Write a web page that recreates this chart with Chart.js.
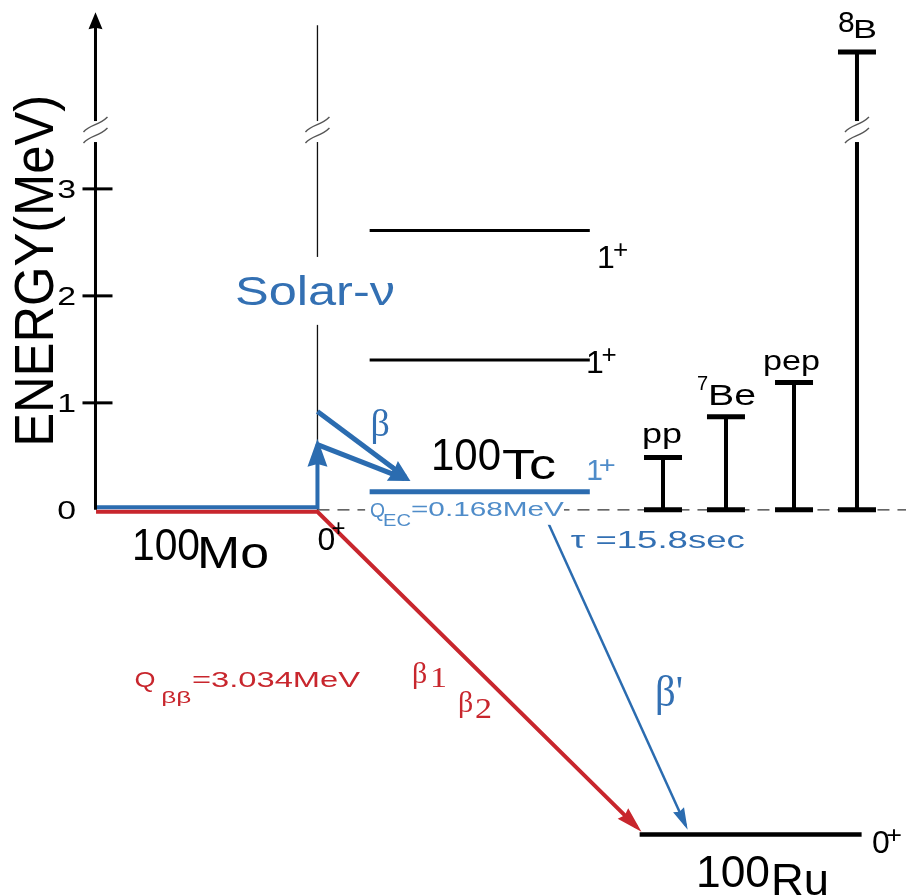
<!DOCTYPE html>
<html>
<head>
<meta charset="utf-8">
<script src="https://cdn.jsdelivr.net/npm/chart.js@4.4.1/dist/chart.umd.min.js"></script>
<style>
  html, body { margin: 0; padding: 0; background: #fff; }
  #wrap { width: 906px; height: 895px; }
</style>
</head>
<body>
<div id="wrap"><canvas id="c" width="906" height="895"></canvas></div>
<script>
// ---- values: energies in MeV relative to the 100Mo ground state ----
const yTicks = [0, 1, 2, 3];
const qBetaBeta = 3.034;             // 100Mo -> 100Ru double beta decay
const qEC = 0.168;                   // 100Tc 1+ ground state above 100Mo
const tcExcited = [1.40, 2.61];      // higher 1+ states of 100Tc
const solarSources = ['pp', '7Be', 'pep', '8B'];
const solarMax = [0.49, 0.87, 1.19, 4.28]; // 8B end point sits above the axis break
const axisBreak = 3.55;

// ---- diagram layout (x in diagram units 0..100) ----
const COL = {
  axis: 10.54, moStart: 10.6, moEnd: 35.04,
  levelStart: 40.8, levelEnd: 65.1,
  ruStart: 70.6, ruEnd: 95.1, dashEnd: 100,
  bars: [73.18, 80.13, 87.64, 94.59]
};
const BLUE = '#2b6cb0', RED = '#c8262d', TXTBLUE = '#3370b3', LIGHTBLUE = '#4f8cc9';
const SANS = '"Liberation Sans", Arial, sans-serif';
const SERIF = '"Liberation Serif", "Times New Roman", serif';

const seg = (x0, y0, x1, y1) => [{ x: x0, y: y0 }, { x: x1, y: y1 }];

const drawList = [
  // zero-energy reference line
  { data: seg(COL.moEnd, 0, COL.dashEnd, 0), borderColor: '#333', borderWidth: 1.4, borderDash: [12, 8] },
  // thin column marker above 100Mo
  { data: seg(COL.moEnd, 0, COL.moEnd, 4.53), borderColor: '#111', borderWidth: 1.3 },
  // excited 1+ states of 100Tc
  ...tcExcited.map(e => ({ data: seg(COL.levelStart, e, COL.levelEnd, e), borderColor: '#000', borderWidth: 3 })),
  // 100Tc ground state
  { data: seg(COL.levelStart, qEC, COL.levelEnd, qEC), borderColor: BLUE, borderWidth: 5 },
  // 100Ru ground state
  { data: seg(COL.ruStart, -qBetaBeta, COL.ruEnd, -qBetaBeta), borderColor: '#000', borderWidth: 4.5 },
  // solar neutrino energy ranges
  ...solarMax.map((e, i) => ({
    label: solarSources[i],
    data: seg(COL.bars[i], 0, COL.bars[i], e),
    borderColor: '#000', borderWidth: 4,
    pointRadius: 19, pointStyle: 'line', pointBorderWidth: 5, pointBorderColor: '#000'
  })),
  // double beta decay path
  { data: [{ x: COL.moStart, y: 0 }, { x: COL.moEnd, y: 0 }, { x: 70.8, y: -2.99 }],
    borderColor: RED, borderWidth: 4, shiftY: 2, arrowHead: { len: 26, w: 15 } },
  // neutrino absorption path
  { data: [{ x: COL.moStart, y: 0 }, { x: COL.moEnd, y: 0 }, { x: COL.moEnd, y: 0.64 }],
    borderColor: BLUE, borderWidth: 4, shiftY: -2.5, arrowHead: { len: 28, w: 20 } },
  // beta transitions into 100Tc
  { data: seg(COL.moEnd, 0.92, 45.3, 0.27), borderColor: BLUE, borderWidth: 5, arrowHead: { len: 22, w: 17 } },
  { data: seg(COL.moEnd, 0.61, 45.3, 0.27), borderColor: BLUE, borderWidth: 5, arrowHead: { len: 22, w: 17 } },
  // 100Tc beta decay to 100Ru
  { data: seg(60.5, -0.12, 75.9, -2.99), borderColor: BLUE, borderWidth: 2.5, arrowHead: { len: 22, w: 12 } },
  // energy axis
  { data: seg(COL.axis, 0, COL.axis, 4.65), borderColor: '#000', borderWidth: 3, arrowHead: { len: 17, w: 14 } }
];

const datasets = drawList.map((d, i) => Object.assign({
  order: drawList.length - i, showLine: true, fill: false, clip: false,
  pointRadius: 0, pointHoverRadius: 0, borderCapStyle: 'butt', borderJoinStyle: 'miter'
}, d));

// text labels: x in diagram units, y in MeV (baseline), left aligned
const labels = [
  { t: 'Solar-ν', x: 25.94, y: 1.916, size: 40, w: 160, c: TXTBLUE, box: [25.17, 2.364, 44.15, 1.729] },
  { t: 'β', x: 40.9, y: 0.69, size: 38, c: TXTBLUE, f: SERIF },
  { t: '100', x: 47.57, y: 0.374, size: 44, w: 70 },
  { t: 'Tc', x: 55.4, y: 0.29, size: 42, w: 54 },
  { t: '1', x: 64.7, y: 0.28, size: 30, c: LIGHTBLUE },
  { t: '+', x: 66.1, y: 0.34, size: 24, w: 17, c: LIGHTBLUE },
  { t: '1', x: 64.67, y: 1.28, size: 32 },
  { t: '+', x: 66.4, y: 1.37, size: 26 },
  { t: '1', x: 65.9, y: 2.262, size: 32 },
  { t: '+', x: 67.65, y: 2.352, size: 26 },
  { t: 'Q', x: 40.84, y: -0.065, size: 20, w: 15, c: LIGHTBLUE, box: [40.3, 0.093, 62.25, -0.14] },
  { t: 'EC', x: 42.27, y: -0.15, size: 17, w: 28, c: LIGHTBLUE },
  { t: '=0.168MeV', x: 45.36, y: -0.056, size: 20, w: 153, c: LIGHTBLUE },
  { t: 'τ =15.8sec', x: 63.0, y: -0.355, size: 24, w: 174, c: TXTBLUE },
  { t: '100', x: 14.57, y: -0.467, size: 44, w: 68 },
  { t: 'Mo', x: 21.74, y: -0.542, size: 44, w: 72 },
  { t: '0', x: 35.04, y: -0.374, size: 32 },
  { t: '+', x: 36.6, y: -0.243, size: 24, w: 14 },
  { t: 'Q', x: 14.85, y: -1.654, size: 22, w: 21, c: RED },
  { t: 'ββ', x: 17.8, y: -1.81, size: 16, w: 30, c: RED },
  { t: '=3.034MeV', x: 21.19, y: -1.654, size: 22, w: 168, c: RED },
  { t: 'β', x: 45.47, y: -1.617, size: 30, c: RED, f: SERIF },
  { t: '1', x: 47.46, y: -1.654, size: 30, w: 17, c: RED, f: SERIF },
  { t: 'β', x: 50.55, y: -1.888, size: 30, c: RED, f: SERIF },
  { t: '2', x: 52.43, y: -1.944, size: 30, w: 17, c: RED, f: SERIF },
  { t: "β'", x: 72.3, y: -1.832, size: 44, w: 28, c: TXTBLUE, f: SERIF },
  { t: '0', x: 96.25, y: -3.206, size: 32 },
  { t: '+', x: 97.8, y: -3.112, size: 24, w: 16 },
  { t: '100', x: 76.82, y: -3.523, size: 44, w: 74 },
  { t: 'Ru', x: 85.1, y: -3.598, size: 44, w: 58 },
  { t: 'pp', x: 70.86, y: 0.626, size: 28, w: 40 },
  { t: '7', x: 76.93, y: 1.121, size: 20 },
  { t: 'Be', x: 78.15, y: 0.981, size: 30, w: 48 },
  { t: 'pep', x: 84.22, y: 1.308, size: 28, w: 57 },
  { t: '8', x: 92.49, y: 4.467, size: 30 },
  { t: 'B', x: 94.15, y: 4.411, size: 25, w: 24 }
];

function drawText(ctx, str, px, py, o) {
  ctx.save();
  ctx.font = `${o.size}px ${o.f || SANS}`;
  ctx.fillStyle = o.c || '#000';
  ctx.textBaseline = 'alphabetic';
  ctx.textAlign = 'left';
  const w = ctx.measureText(str).width;
  const sx = o.w ? o.w / w : (o.sx || 1);
  ctx.translate(px, py);
  if (o.rot) ctx.rotate(o.rot);
  ctx.scale(sx, 1);
  const off = o.align === 'center' ? -w / 2 : o.align === 'right' ? -w : 0;
  ctx.fillText(str, off, 0);
  ctx.restore();
}

const diagramPlugin = {
  id: 'levelDiagram',
  beforeDatasetDraw(chart, args) {
    const ds = chart.data.datasets[args.index];
    const ctx = chart.ctx;
    if (ds.shiftY) { ctx.save(); ctx.translate(0, ds.shiftY); }
    if (ds.arrowHead) {
      // pull the shaft back so the head keeps a sharp tip
      const pts = args.meta.data;
      const a = pts[pts.length - 2], b = pts[pts.length - 1];
      const ang = Math.atan2(b.y - a.y, b.x - a.x);
      const inset = ds.borderWidth * ds.arrowHead.len / ds.arrowHead.w;
      ds._tip = { x: b.x, y: b.y, ang };
      b.x -= Math.cos(ang) * inset;
      b.y -= Math.sin(ang) * inset;
    }
  },
  afterDatasetDraw(chart, args) {
    const ds = chart.data.datasets[args.index];
    const ctx = chart.ctx;
    if (ds.arrowHead && ds._tip) {
      const pts = args.meta.data;
      const b = pts[pts.length - 1];
      const { x, y, ang } = ds._tip;
      b.x = x; b.y = y;
      const { len, w } = ds.arrowHead;
      ctx.save();
      ctx.fillStyle = ds.borderColor;
      ctx.translate(x, y);
      ctx.rotate(ang);
      ctx.beginPath();
      ctx.moveTo(0, 0);
      ctx.lineTo(-len, -w / 2);
      ctx.lineTo(-len * 0.9, 0);
      ctx.lineTo(-len, w / 2);
      ctx.closePath();
      ctx.fill();
      ctx.restore();
    }
    if (ds.shiftY) ctx.restore();
  },
  afterDatasetsDraw(chart) {
    const ctx = chart.ctx;
    const xs = chart.scales.x, ys = chart.scales.y;
    const X = v => xs.getPixelForValue(v), Y = v => ys.getPixelForValue(v);

    // tick marks and labels on the energy axis
    const ax = X(COL.axis);
    ctx.save();
    ctx.strokeStyle = '#000';
    ctx.lineWidth = 3;
    yTicks.forEach(v => {
      if (v > 0) {
        ctx.beginPath();
        ctx.moveTo(ax - 13, Y(v));
        ctx.lineTo(ax + 17, Y(v));
        ctx.stroke();
      }
      drawText(ctx, String(v), X(8.4), Y(v) + 9, { size: 26, sx: 1.3, align: 'right' });
    });
    ctx.restore();

    // axis breaks
    [COL.axis, COL.moEnd, COL.bars[3]].forEach(col => {
      const x = X(col), y = Y(axisBreak);
      ctx.save();
      ctx.fillStyle = '#fff';
      ctx.fillRect(x - 6, y - 9, 12, 21);
      ctx.strokeStyle = '#555';
      ctx.lineWidth = 1.4;
      [-5, 6].forEach(dy => {
        ctx.beginPath();
        ctx.moveTo(x - 12, y + dy + 7);
        ctx.bezierCurveTo(x - 5, y + dy - 1, x + 3, y + dy + 1, x + 12, y + dy - 8);
        ctx.stroke();
      });
      ctx.restore();
    });

    // white backing behind labels that sit on lines
    labels.filter(l => l.box).forEach(l => {
      const [x0, y0, x1, y1] = l.box;
      ctx.fillStyle = '#fff';
      ctx.fillRect(X(x0), Y(y0), X(x1) - X(x0), Y(y1) - Y(y0));
    });

    labels.forEach(l => drawText(ctx, l.t, X(l.x), Y(l.y), l));

    // axis title
    drawText(ctx, 'ENERGY(MeV)', X(5.9), Y(2.234),
      { size: 56, w: 352, align: 'center', rot: -Math.PI / 2 });
  }
};

new Chart(document.getElementById('c'), {
  type: 'scatter',
  data: { datasets },
  options: {
    responsive: false,
    devicePixelRatio: 1,
    animation: false,
    events: [],
    layout: { autoPadding: false, padding: { top: 7, bottom: 0, left: 0, right: 0 } },
    scales: {
      x: { type: 'linear', min: 0, max: 100, display: false },
      y: { type: 'linear', min: -3.6, max: 4.7, display: false }
    },
    plugins: { legend: { display: false }, tooltip: { enabled: false } }
  },
  plugins: [diagramPlugin]
});
</script>
</body>
</html>
